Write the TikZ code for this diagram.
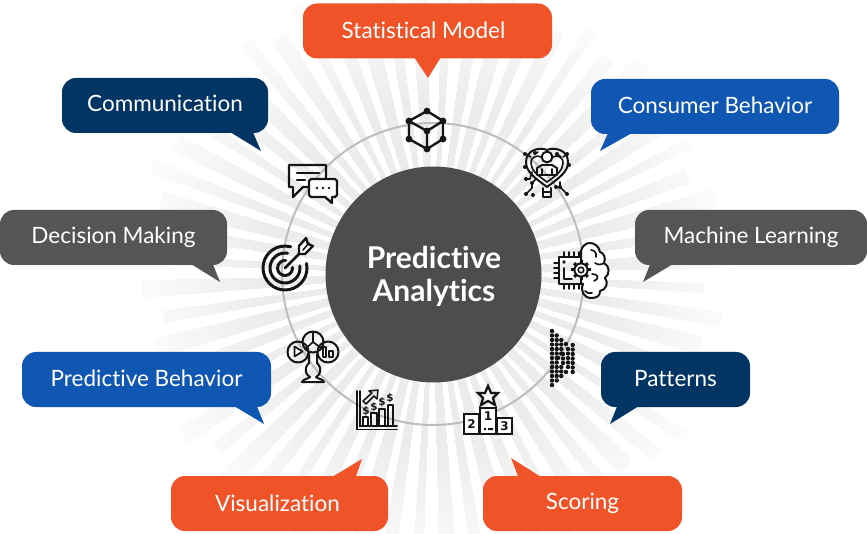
\documentclass[tikz,border=0pt]{standalone}
\usepackage{fontspec}
\setmainfont{Lato}[Ligatures=NoCommon]
\newfontfamily\iconfont{DejaVu Sans}
\usetikzlibrary{calc}
\definecolor{orangeb}{HTML}{F05327}
\definecolor{navyb}{HTML}{023564}
\definecolor{blueb}{HTML}{0F57B3}
\definecolor{greyb}{HTML}{555555}
\definecolor{hubgrey}{HTML}{4D4D4D}
\definecolor{ringgrey}{HTML}{BDBDBD}
\definecolor{ink}{HTML}{151515}
\tikzset{
  declare function={rayw(\i)=1.0+mod(\i*7,5)*0.22; rayr(\i)=272+mod(\i*11,7)*5; rayp(\r)=max(1,min(7.5,7.5-(\r-170)/115*5.5));},
  bubble/.style={rounded corners=14pt,inner sep=0pt,text=white,font=\fontsize{22.5}{26}\selectfont,minimum height=55pt},
  ico/.style={draw=ink,line width=2pt,line join=round,line cap=round},
  icotext/.style={text=ink,inner sep=0pt,font=\iconfont\bfseries\fontsize{12}{13}\selectfont},
  hubtext/.style={text=white,align=center,font=\bfseries\fontsize{30}{33}\selectfont,inner sep=0pt}
}
\begin{document}
\begin{tikzpicture}[x=1pt,y=-1pt]
\useasboundingbox (0,0) rectangle (867,534);
\fill[white] (0,0) rectangle (867,534);
% rays
\begin{scope}[shift={(433,274)}]
  \begin{scope}
    \clip foreach \i [evaluate=\i as \a using \i*6+3, evaluate=\i as \w using rayw(\i), evaluate=\i as \r using rayr(\i)] in {0,...,59} {
      (\a-\w:60) -- (\a-\w:\r) -- (\a+\w:\r) -- (\a+\w:60) -- cycle };
    \foreach \r [evaluate=\r as \p using rayp(\r)] in {310,306,...,102}
      \fill[black!\p] (0,0) circle (\r);
  \end{scope}
\end{scope}
% ring and hub
\coordinate (c) at (433,274);
\draw[ringgrey,line width=2pt] (c) circle (151);
\node[circle,fill=hubgrey,minimum size=216pt,inner sep=0pt] (hub) at (433.5,274.5) {};
\node[hubtext] (hubl) at (434,276) {Predictive\\Analytics};

% cube icon
\coordinate (t) at (427,111); \coordinate (ur) at (443,121); \coordinate (lr) at (443,139);
\coordinate (b) at (427,149); \coordinate (ll) at (409,139); \coordinate (ul) at (409,121); \coordinate (m) at (427,131);
\draw[ico,line width=2.4pt] (t)--(ur)--(lr)--(b)--(ll)--(ul)--cycle (ul)--(m)--(ur) (m)--(b);
\foreach \p in {t,ur,lr,b,ll,ul,m} \fill[ink] (\p) circle (3.4);

% communication icon
\draw[ico,line width=2.4pt] (309,187) -- (303,187) -- (293,197) -- (293,187) -- (289,187) -- (289,165) -- (326,165) -- (326,178);
\draw[ico,line width=2.2pt] (297,173) -- (319,173) (297,180) -- (305,180);
\draw[ico,fill=white,line width=2.4pt] (311,179) -- (335,179) -- (337,181) -- (337,195) -- (335,197) -- (332,197) -- (332,203) -- (325,197) -- (311,197) -- (309,195) -- (309,181) -- cycle;
\foreach \x in {317,323,329} \fill[ink] (\x,188) circle (1.4);

% target icon
\draw[ico,line width=3pt] (285,268) ++(-12:22) arc[start angle=-12,end angle=285,radius=22];
\draw[ico,line width=3pt] (285,268) ++(-8:15) arc[start angle=-8,end angle=280,radius=15];
\draw[ico,line width=3pt] (285,268) ++(-5:7.5) arc[start angle=-5,end angle=275,radius=7.5];
\draw[ico,line width=2.6pt] (285,268) -- (303,250);
\draw[ico,fill=white,line width=2.4pt] (299,254) -- (299,246) -- (306,238) -- (308,244) -- (313,246) -- (305,254) -- cycle;
\draw[ico,line width=1.6pt] (303,250) -- (309,243);

% heart-person icon
\draw[ico,line width=2pt] (547,187) .. controls (535,178) and (526,172) .. (526,162) .. controls (526,149) and (541,147) .. (547,150)
   .. controls (553,147) and (568,149) .. (568,162) .. controls (568,172) and (559,178) .. (547,187) -- cycle;
\draw[ico,line width=1.6pt] (547,182) .. controls (537,175) and (531,170) .. (531,163) .. controls (531,156) and (538,155) .. (541,157);
\draw[ico,line width=1.6pt] (547,182) .. controls (557,175) and (563,170) .. (563,163) .. controls (563,156) and (556,155) .. (553,157);
\draw[ico,fill=white,line width=2pt] (547,157) circle (5.4);
\draw[ico,line width=1.9pt] (537,175) -- (537,168) -- (542,165) -- (552,165) -- (557,168) -- (557,175) -- cycle (542,175) -- (542,169) (552,175) -- (552,169);
\draw[ico,line width=2pt] (543,188) -- (543,197) -- (551,197) -- (551,188) (543,192) -- (551,192);
\draw[ico,line width=1.6pt] (526,154) -- (531,157) (535,154) -- (538,152)
   (526,179) -- (530,179) -- (532,172)
   (526,194) -- (532,188) -- (532,183) -- (536,179)
   (567,194) -- (560,187) -- (560,182) (557,154) -- (561,157) (567,154) -- (563,157);
\foreach \p in {(525,154),(535,153),(525,167),(526,179),(532,183),(526,194),(533,195),(557,154),(567,154),(569,165),(560,187),(567,194),(556,187)}
  \fill[ink] \p circle (2);

% chip-brain icon
\draw[ico] (582,257) -- (559,257) -- (559,284) -- (582,284);
\fill[ink] (564,262) circle (1.8);
\draw[ico,line width=1.6pt] (564,268) -- (564,279) -- (572,279);
\foreach \x in {564,569,574,579} \draw[ico,line width=1.7pt] (\x,252) -- (\x,257) (\x,284) -- (\x,289);
\foreach \y in {263,268,273,278} \draw[ico,line width=1.7pt] (554,\y) -- (559,\y);
\draw[ico,fill=white] (583,284) .. controls (580,291) and (584,298) .. (591,298) .. controls (597,298) and (600,296) .. (600,291)
  .. controls (606,290) and (609,283) .. (605,278) .. controls (610,274) and (610,266) .. (604,263)
  .. controls (606,258) and (604,253) .. (600,252) .. controls (599,246) and (594,243) .. (590,243) .. controls (586,243) and (582,246) .. (581,251) -- (581,284) -- cycle;
\draw[ico,line width=1.7pt] (591,250) .. controls (594,250) and (597,253) .. (596,257) (604,263) .. controls (601,265) and (598,265) .. (595,263)
  (592,274) .. controls (598,274) and (600,278) .. (594,281) (585,291) .. controls (587,293) and (589,294) .. (592,293);
\foreach \a in {0,45,...,315} \draw[ink,line width=3pt] (581,270) ++(\a:6) -- ++(\a:3.6);
\draw[ico,fill=white,line width=2pt] (581,270) circle (6.6);
\draw[ico,line width=1.6pt] (581,270) circle (2.8);

% dots icon
\foreach \x/\ya/\n in {552/331/12, 556.7/335.5/10, 561.3/340/3, 561.3/367/2, 566/344/0, 566/372/0, 558/358/0}
  \foreach \k in {0,...,\n} \fill[ink] (\x,\ya+4.5*\k) circle (2.2);
\foreach \x/\ya/\n in {563/354/2, 568/349/4, 572.7/345/6}
  \foreach \k in {0,...,\n} \fill[ink] (\x,\ya+4.5*\k) circle (2.2);

% podium icon
\draw[ico,line width=2.4pt,line cap=butt,line join=miter,fill=white] (464,414) rectangle (479,434);
\draw[ico,line width=2.4pt,line cap=butt,line join=miter,fill=white] (497,418) rectangle (512,434);
\draw[ico,line width=2.4pt,line cap=butt,line join=miter,fill=white] (480,408) rectangle (496,434);
\node[icotext] (p2) at (471.5,424.5) {2};
\node[icotext] (p1) at (488,416.5) {1};
\node[icotext] (p3) at (504.5,426) {3};
\fill[ink] (484,428) rectangle (486,430) (488,428) rectangle (493,430);
\draw[ico,line width=2.3pt,line join=miter] (488,386) -- (491,393) -- (498,393) -- (493,398) -- (495,405) -- (488,401) -- (481,405) -- (483,398) -- (478,393) -- (485,393) -- cycle;

% chart icon
\draw[ico,line width=1.7pt,line join=miter] (357,391) -- (357,429.5) -- (397,429.5) (360,391) -- (360,426) -- (397,426);
\foreach \xa/\xb/\yt in {363/368/417, 371/377/413, 379/385/409, 388/393/405}
  \draw[ico,line width=1.6pt] (\xa,426) -- (\xa,\yt) -- (\xb,\yt) -- (\xb,426);
\foreach \x/\y/\n in {366/411/da, 374/407/db, 382/402/dc, 390/398/dd}
  \node[icotext,font=\iconfont\bfseries\fontsize{10.5}{11}\selectfont] (\n) at (\x,\y) {\$};
\draw[ico,line width=1.5pt] (363,401) -- (372,393) -- (369,391) -- (378,390) -- (377,399) -- (374,396) -- (366,404) -- cycle;

% pie-tree icon
\draw[ico] (313,342) circle (10.5);
\draw[ico] (298,352) circle (10.5);
\draw[ico] (328,352) circle (10.5);
\draw[ico,line width=1.7pt] (313,332) -- (313,342) -- (305,349) (313,342) -- (321,348);
\draw[ico,line width=1.7pt] (294.5,346.5) -- (294.5,356.5) -- (302.5,351.5) -- cycle;
\draw[ico,line width=1.7pt] (323,347) rectangle (326,357) (329,351) rectangle (333,357);
\draw[ico] (309,354) -- (309,363) .. controls (303,369) and (306,375) .. (310,377) .. controls (308,379) and (303,379) .. (302,382) -- (324,382) .. controls (323,379) and (318,379) .. (316,377) .. controls (320,375) and (323,369) .. (317,363) -- (317,354);

% bubbles
\node[bubble,fill=orangeb,minimum width=249pt] (stat) at (427.5,31) {\hspace*{-8pt}\raisebox{1pt}{Statistical Model}};
\fill[orangeb] (414,57) -- (428,78) -- (441,57) -- cycle;
\node[bubble,fill=navyb,minimum width=206pt] (comm) at (165,105.5) {\raisebox{4pt}{Communication}};
\fill[navyb] (230,132) -- (261,151) -- (252,130) -- cycle;
\node[bubble,fill=blueb,minimum width=248pt] (cons) at (715,106.5) {\raisebox{3pt}{Consumer Behavior}};
\fill[blueb] (632,133) -- (600,151) -- (609,131) -- cycle;
\node[bubble,fill=greyb,minimum width=227pt] (deci) at (113.5,237.5) {Decision Making};
\fill[greyb] (191,264) -- (220,282) -- (212,262) -- cycle;
\node[bubble,fill=greyb,minimum width=232pt] (mach) at (751,237.5) {Machine Learning};
\fill[greyb] (673,264) -- (643,282) -- (651,262) -- cycle;
\node[bubble,fill=blueb,minimum width=249pt] (pred) at (146.5,379.5) {\raisebox{2pt}{Predictive Behavior}};
\fill[blueb] (234,406) -- (264,424) -- (256,404) -- cycle;
\node[bubble,fill=navyb,minimum width=149pt] (patt) at (675.5,379.5) {\raisebox{2.5pt}{Patterns}};
\fill[navyb] (639,406) -- (610,424) -- (618,404) -- cycle;
\node[bubble,fill=orangeb,minimum width=217pt] (visu) at (279.5,503.5) {\hspace*{-4pt}\raisebox{1pt}{Visualization}};
\fill[orangeb] (332,477) -- (362,459) -- (355,479) -- cycle;
\node[bubble,fill=orangeb,minimum width=199pt] (scor) at (582.5,503.5) {\raisebox{1pt}{Scoring}};
\fill[orangeb] (541,477) -- (511,458) -- (519,479) -- cycle;
\end{tikzpicture}
\end{document}
